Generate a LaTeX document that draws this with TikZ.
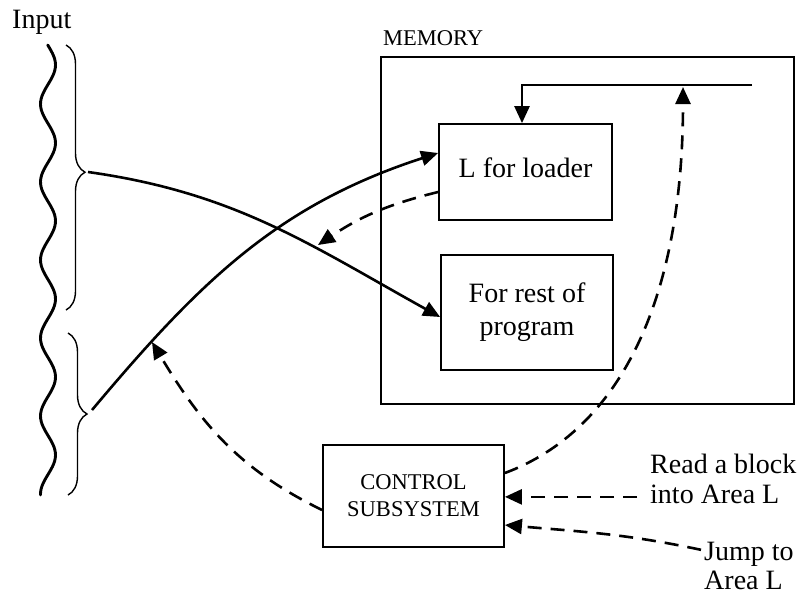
\documentclass[tikz,border=0pt]{standalone}
\usepackage{fontspec}
\setmainfont{Liberation Serif}
\usetikzlibrary{arrows.meta,decorations.pathreplacing}

\begin{document}
\begin{tikzpicture}[x=1pt,y=-1pt,
  box/.style={draw, line width=1.8pt, inner sep=0pt},
  big/.style={font=\fontsize{28}{33}\selectfont},
  small/.style={font=\fontsize{22.5}{27}\selectfont},
  lbl/.style={inner sep=0pt, anchor=base west},
  flow/.style={line width=2.6pt, -{Triangle[length=17pt,width=15pt]}},
  ctl/.style={flow, dash pattern=on 14pt off 9pt},
  inbrace/.style={decorate, line width=1.4pt,
    decoration={brace, amplitude=19pt, aspect=#1}},
]
\useasboundingbox (0,0) rectangle (799,595);

% memory and its two areas
\node[box, minimum width=413pt, minimum height=347pt] (mem) at (587.5,230.5) {};
\node[lbl, small] (memlbl) at (383,45) {MEMORY};
\node[box, big, minimum width=173pt, minimum height=96pt,
      text height=19pt, text depth=8pt] (lbox) at (525.5,172) {L for loader};
\node[box, big, align=center, minimum width=172pt, minimum height=115pt]
      (rbox) at (527,312.5) {For rest of\\program};

% control subsystem
\node[box, small, align=center, minimum width=181pt, minimum height=102pt]
      (ctrl) at (413.5,496) {CONTROL\\SUBSYSTEM};

% text labels
\node[lbl, big] (input) at (12,28) {Input};
\node[lbl, big] (readA) at (650,473) {Read a block};
\node[lbl, big] (readB) at (650,503) {into Area L};
\node[lbl, big] (jumpA) at (704,560) {Jump to};
\node[lbl, big] (jumpB) at (704,589) {Area L};

% input deck: wavy edge and two braces
\draw[line width=2.9pt, line cap=round]
  plot[domain=45:495, samples=160, smooth] ({48+7.5*sin(4.615*(\x-357.5))}, \x);
\draw[inbrace=0.48] (66,45) -- (66,310);
\draw[inbrace=0.5] (68,333) -- (68,495);
\coordinate (tipU) at (85,172);
\coordinate (tipL) at (87,414);

% loading paths
\draw[flow] ([xshift=3pt]tipU) to[out=-8, in=151] ([yshift=-4.5pt]rbox.west);
\draw[flow] ([xshift=5pt,yshift=4pt]tipL) to[out=50, in=-162] ([yshift=19pt]lbox.west);

% top feed into area L
\coordinate (topR) at (752,85);
\draw[flow] (topR) -| ([xshift=-3.5pt]lbox.north);

% control signals
\coordinate (hit) at (683,87);
\coordinate (tipA) at (152,342);
\coordinate (tipR) at (318,245);
\draw[ctl] ([yshift=23pt]ctrl.east) .. controls +(115,-43) and +(0,213) .. (hit);
\draw[ctl] ([yshift=-14pt]ctrl.west) to[out=154, in=-59] (tipA);
\draw[ctl] ([yshift=-20pt]lbox.west) to[bend right=10] (tipR);
\draw[ctl] ([xshift=-13pt,yshift=-3pt]readB.west) -- ([yshift=-3pt]readB.west -| ctrl.east);
\draw[ctl] ([xshift=-3pt,yshift=4pt]jumpA.west) to[out=168, in=-5] ([yshift=-29pt]ctrl.east);
\end{tikzpicture}
\end{document}
